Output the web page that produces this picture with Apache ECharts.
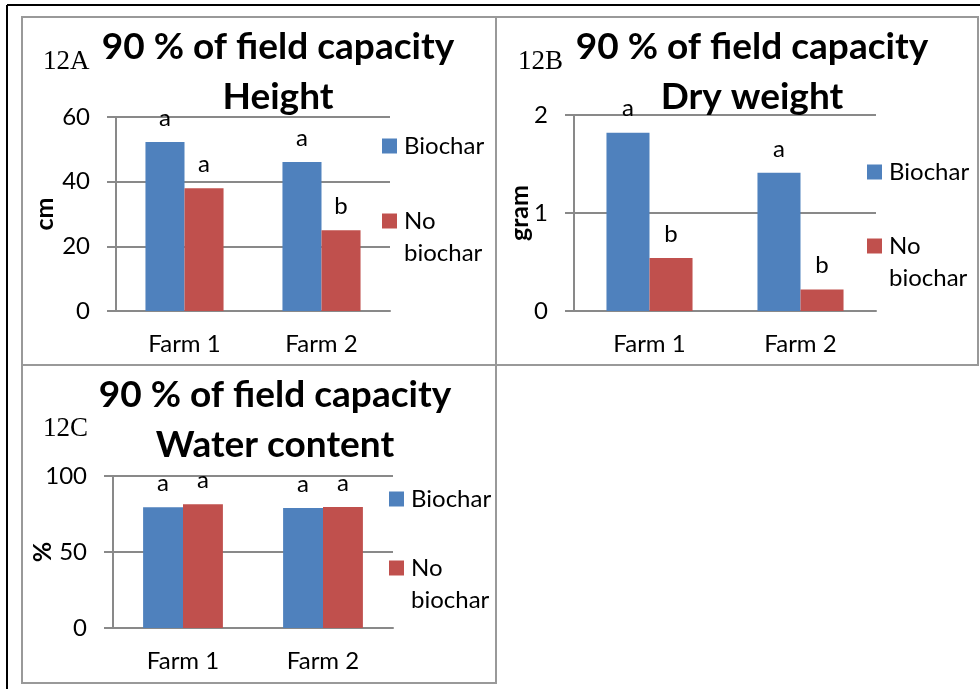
<!DOCTYPE html>
<html>
<head>
<meta charset="utf-8">
<script src="https://cdn.jsdelivr.net/npm/echarts@6/dist/echarts.min.js"></script>
<style>
  html, body { margin: 0; padding: 0; background: #fff; }
  #chart { width: 980px; height: 689px; }
</style>
</head>
<body>
<div id="chart"></div>
<script>
// Data
const farms = ['Farm 1', 'Farm 2'];
const seriesNames = ['Biochar', 'No biochar'];

// 12A - plant height (cm)
const heightBiochar = [52.3, 46.1];
const heightNoBiochar = [38.0, 25.0];
const heightBiocharSig = ['a', 'a'];
const heightNoBiocharSig = ['a', 'b'];

// 12B - dry weight (gram)
const dryBiochar = [1.82, 1.41];
const dryNoBiochar = [0.54, 0.22];
const dryBiocharSig = ['a', 'a'];
const dryNoBiocharSig = ['b', 'b'];

// 12C - water content (%)
const waterBiochar = [79.4, 79.0];
const waterNoBiochar = [81.4, 79.6];
const waterBiocharSig = ['a', 'a'];
const waterNoBiocharSig = ['a', 'a'];

const BLUE = '#4F81BD';
const RED = '#C0504D';
const GREY = '#898989';
const SANS = 'Lato';
const LEG_LH = 32;

// layout for each panel
const panels = [
  {
    tag: '12A', title: '90 % of field capacity\nHeight', unit: 'cm',
    bio: heightBiochar, no: heightNoBiochar, bioSig: heightBiocharSig, noSig: heightNoBiocharSig,
    max: 60, interval: 20,
    grid: { left: 116, top: 117, width: 274, height: 194 }, nameGap: 59,
    titleX: 278, titleTop: 22, tagX: 43, tagY: 48,
    legX: 382, legBioTop: 130, legNoTop: 173
  },
  {
    tag: '12B', title: '90 % of field capacity\nDry weight', unit: 'gram',
    bio: dryBiochar, no: dryNoBiochar, bioSig: dryBiocharSig, noSig: dryNoBiocharSig,
    max: 2, interval: 1,
    grid: { left: 574, top: 115, width: 302, height: 196 }, nameGap: 42,
    titleX: 752, titleTop: 22, tagX: 518, tagY: 48,
    legX: 867, legBioTop: 156, legNoTop: 198
  },
  {
    tag: '12C', title: '90 % of field capacity\nWater content', unit: '%',
    bio: waterBiochar, no: waterNoBiochar, bioSig: waterBiocharSig, noSig: waterNoBiocharSig,
    max: 100, interval: 50,
    grid: { left: 113, top: 476, width: 280, height: 152 }, nameGap: 58,
    titleX: 275, titleTop: 370, tagX: 43, tagY: 415,
    legX: 389, legBioTop: 483, legNoTop: 520
  }
];

const titles = [];
const legends = [];
const grids = [];
const xAxes = [];
const yAxes = [];
const series = [];

panels.forEach((p, i) => {
  titles.push({
    text: p.title, left: p.titleX, top: p.titleTop, padding: 0, textAlign: 'center',
    textStyle: { fontFamily: SANS, fontWeight: 'bold', fontSize: 37, lineHeight: 50, color: '#000' }
  });
  titles.push({
    text: p.tag, left: p.tagX, top: p.tagY, padding: 0,
    textStyle: { fontFamily: 'Liberation Serif', fontWeight: 'normal', fontSize: 27, lineHeight: 27, color: '#000' }
  });

  const legBase = {
    orient: 'vertical', left: p.legX, padding: 0, icon: 'rect',
    itemWidth: 15, itemHeight: 15, selectedMode: false
  };
  legends.push(Object.assign({}, legBase, {
    top: p.legBioTop, data: [seriesNames[0]],
    textStyle: { fontFamily: SANS, fontSize: 24, lineHeight: LEG_LH, color: '#000', padding: [0, 0, 0, 2] }
  }));
  // blank first line keeps the square level with "No"
  legends.push(Object.assign({}, legBase, {
    top: p.legNoTop, data: [seriesNames[1]],
    formatter: name => '\n' + name.replace(' ', '\n'),
    textStyle: { fontFamily: SANS, fontSize: 24, lineHeight: LEG_LH, color: '#000', padding: [0, 0, 0, 2] }
  }));

  grids.push(Object.assign({ containLabel: false }, p.grid));

  xAxes.push({
    type: 'category', gridIndex: i, data: farms,
    axisLine: { lineStyle: { color: GREY, width: 2 } },
    axisTick: { show: false },
    axisLabel: { fontFamily: SANS, fontSize: 24, color: '#000', margin: 21 }
  });
  yAxes.push({
    type: 'value', gridIndex: i, min: 0, max: p.max, interval: p.interval,
    name: p.unit, nameLocation: 'middle', nameGap: p.nameGap, nameMoveOverlap: false,
    nameTextStyle: { fontFamily: SANS, fontWeight: 'bold', fontSize: 25, color: '#000' },
    axisLine: { show: true, lineStyle: { color: GREY, width: 2 } },
    axisTick: { show: true, length: 9, lineStyle: { color: GREY, width: 2 } },
    axisLabel: { fontFamily: SANS, fontSize: 24, color: '#000', margin: 26 },
    splitLine: { lineStyle: { color: GREY, width: 2 } }
  });

  const pairs = [[seriesNames[0], p.bio, p.bioSig, BLUE], [seriesNames[1], p.no, p.noSig, RED]];
  pairs.forEach(([name, values, sig, color]) => {
    series.push({
      type: 'bar', name: name, xAxisIndex: i, yAxisIndex: i, data: values,
      barGap: '0%', barCategoryGap: '43%',
      itemStyle: { color: color },
      label: {
        show: true, position: 'top', distance: 12,
        fontFamily: SANS, fontSize: 24, color: '#000',
        formatter: prm => sig[prm.dataIndex]
      }
    });
  });
});

// table frame around the three panels
const frame = [
  { type: 'line', shape: { x1: 7, y1: 5, x2: 980, y2: 5 }, style: { stroke: '#000', lineWidth: 2 } },
  { type: 'line', shape: { x1: 7, y1: 5, x2: 7, y2: 689 }, style: { stroke: '#000', lineWidth: 2 } },
  { type: 'rect', shape: { x: 22, y: 17, width: 474, height: 348 }, style: { fill: 'none', stroke: '#999', lineWidth: 2 } },
  { type: 'rect', shape: { x: 496, y: 17, width: 482, height: 348 }, style: { fill: 'none', stroke: '#999', lineWidth: 2 } },
  { type: 'rect', shape: { x: 22, y: 365, width: 474, height: 318 }, style: { fill: 'none', stroke: '#999', lineWidth: 2 } }
];

const chart = echarts.init(document.getElementById('chart'));
chart.setOption({
  backgroundColor: '#fff',
  animation: false,
  title: titles,
  legend: legends,
  grid: grids,
  xAxis: xAxes,
  yAxis: yAxes,
  series: series,
  graphic: { elements: frame }
});
</script>
</body>
</html>
